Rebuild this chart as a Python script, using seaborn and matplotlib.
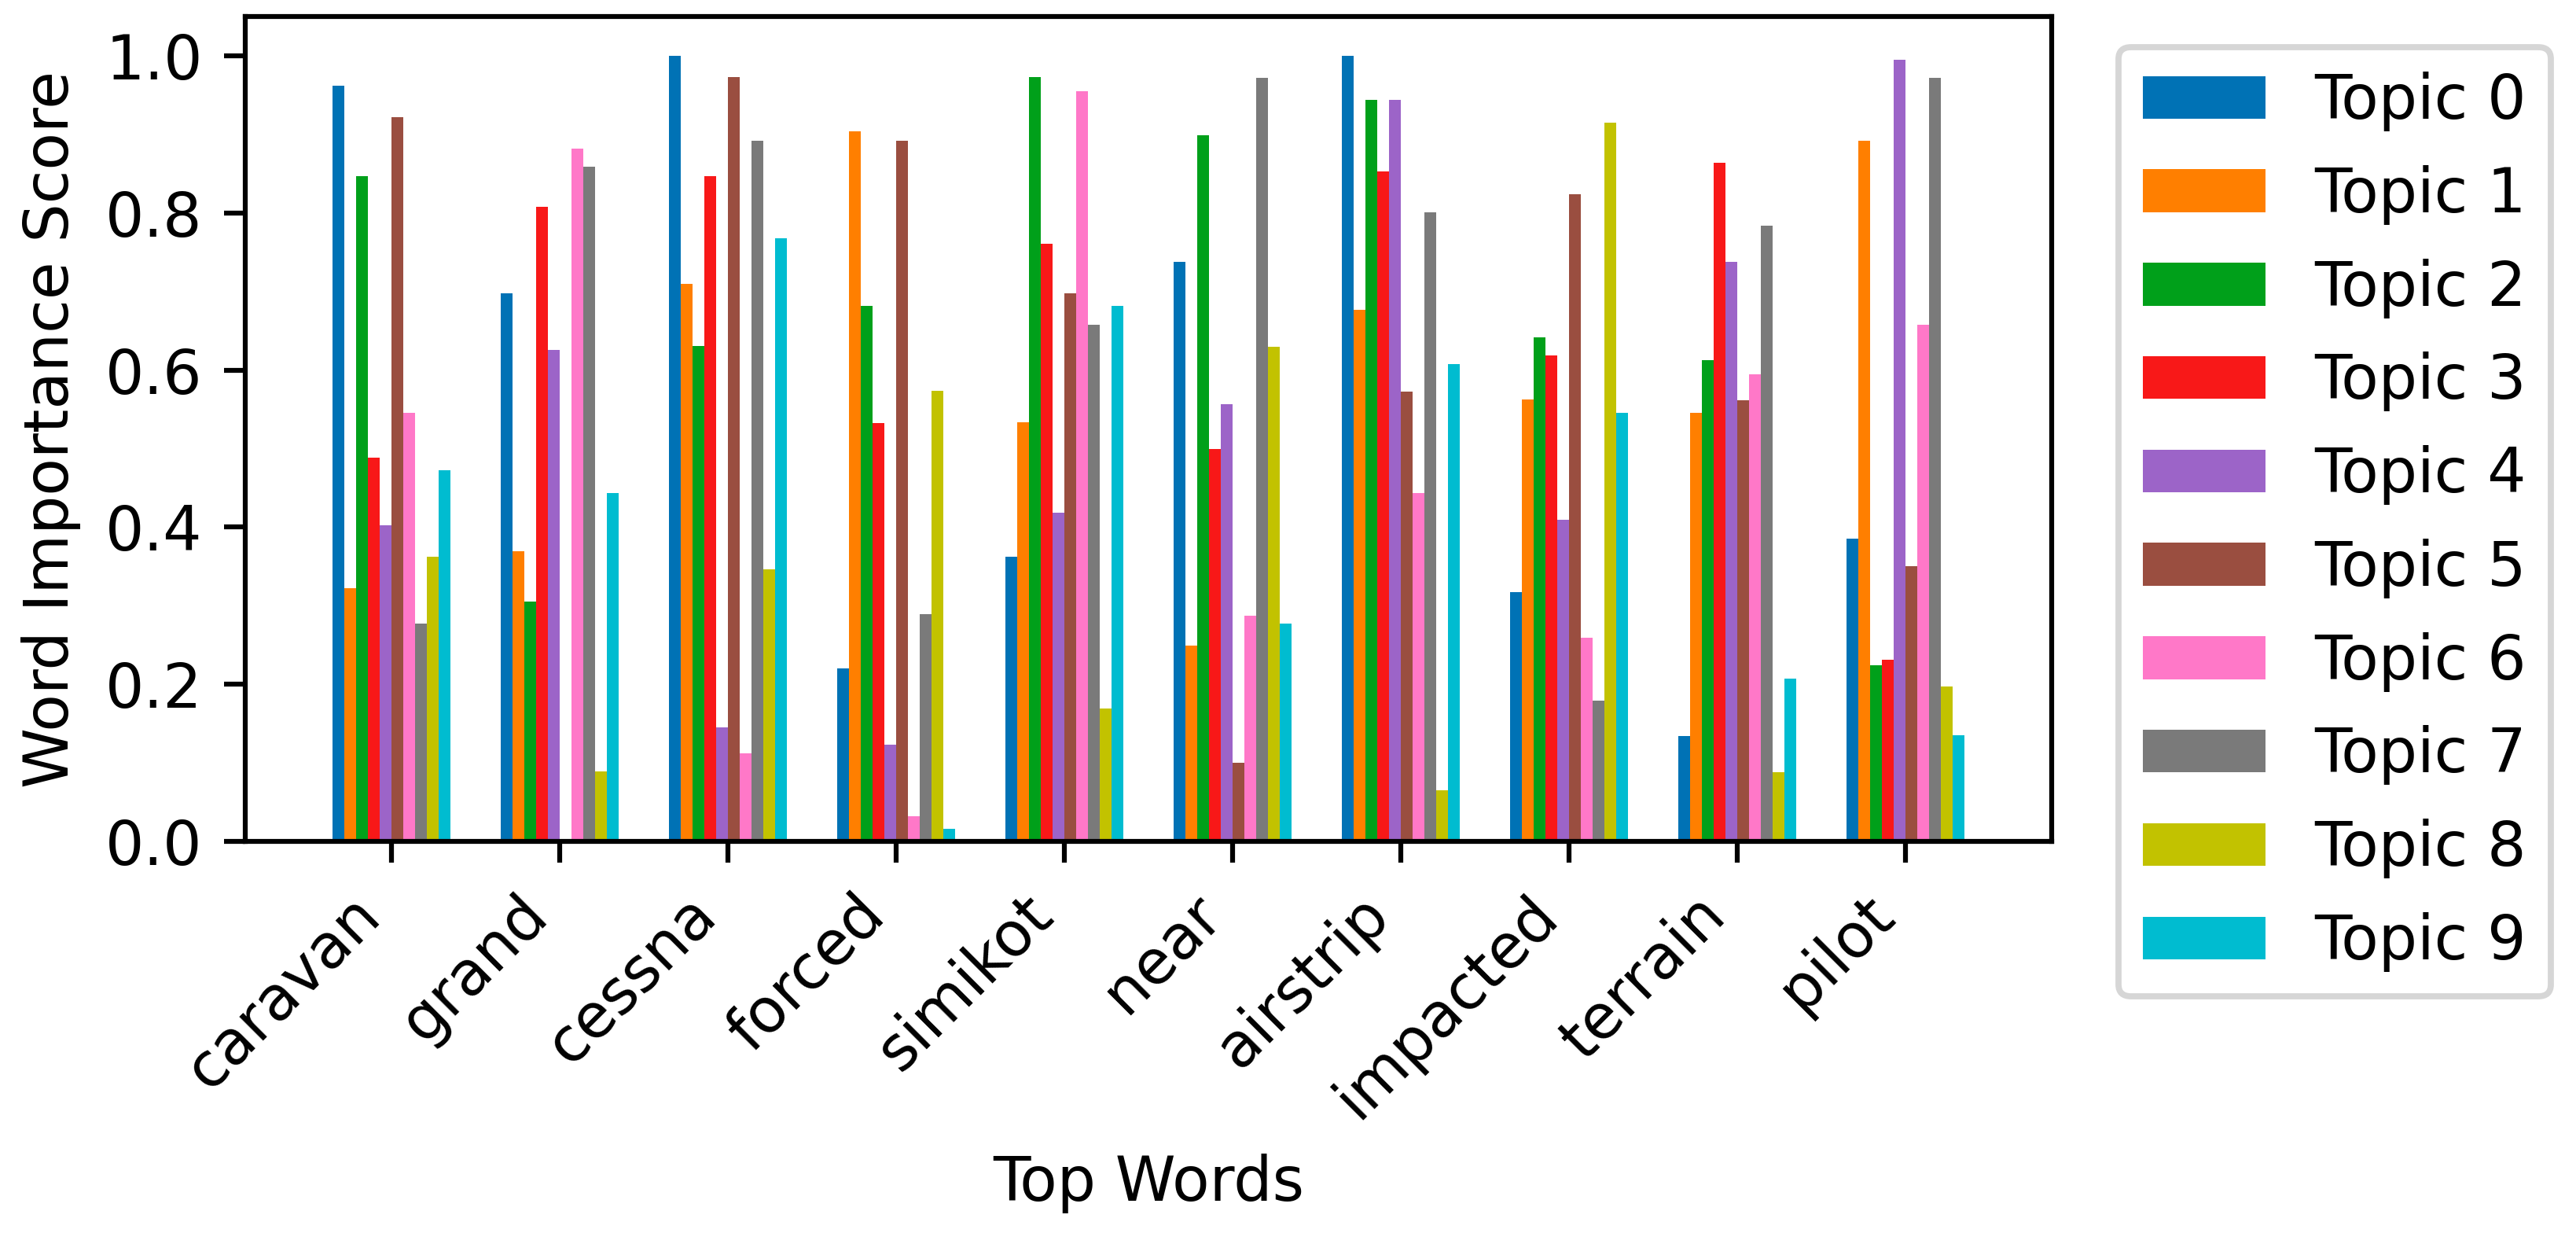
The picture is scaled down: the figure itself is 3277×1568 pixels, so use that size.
import pandas as pd
import matplotlib
matplotlib.use("Agg")
import matplotlib.pyplot as plt
import seaborn as sns

# === 数据 ===
words = ["caravan", "grand", "cessna", "forced", "simikot",
         "near", "airstrip", "impacted", "terrain", "pilot"]
topics = [f"Topic {i}" for i in range(10)]

topic0 = [0.962, 0.698, 1.000, 0.220, 0.362, 0.738, 1.000, 0.317, 0.134, 0.385]
topic1 = [0.322, 0.369, 0.710, 0.904, 0.534, 0.249, 0.677, 0.563, 0.546, 0.892]
topic2 = [0.847, 0.305, 0.631, 0.682, 0.973, 0.899, 0.944, 0.642, 0.613, 0.224]
topic3 = [0.488, 0.808, 0.847, 0.533, 0.761, 0.499, 0.853, 0.619, 0.864, 0.231]
topic4 = [0.402, 0.626, 0.145, 0.123, 0.418, 0.557, 0.944, 0.409, 0.738, 0.995]
topic5 = [0.922, 0.003, 0.973, 0.892, 0.698, 0.100, 0.573, 0.824, 0.562, 0.350]
topic6 = [0.546, 0.882, 0.112, 0.032, 0.955, 0.287, 0.443, 0.259, 0.595, 0.658]
topic7 = [0.277, 0.859, 0.892, 0.289, 0.658, 0.972, 0.801, 0.179, 0.784, 0.972]
topic8 = [0.362, 0.089, 0.346, 0.574, 0.169, 0.630, 0.065, 0.915, 0.088, 0.197]
topic9 = [0.472, 0.443, 0.768, 0.016, 0.682, 0.277, 0.608, 0.546, 0.207, 0.135]

colors = ["#0072b5", "#ff7f00", "#00a01a", "#f81818", "#9c64c8",
          "#9a4e40", "#ff78c8", "#7a7a7a", "#c2c200", "#00bcd0"]

all_scores = [topic0, topic1, topic2, topic3, topic4,
              topic5, topic6, topic7, topic8, topic9]
rows = []
for t, scores in zip(topics, all_scores):
    for w, s in zip(words, scores):
        rows.append({"word": w, "topic": t, "score": s})
df = pd.DataFrame(rows)

# === 画图 ===
dpi = 560
fig, ax = plt.subplots(figsize=(3277 / dpi, 1568 / dpi), dpi=dpi)
fig.subplots_adjust(left=0.0952, right=0.7965, top=0.9866, bottom=0.3176)

sns.barplot(data=df, x="word", y="score", hue="topic", order=words,
            hue_order=topics, palette=colors, width=0.7, saturation=1,
            errorbar=None, linewidth=0, ax=ax)

ax.set_xlim(-0.87, len(words) - 1 + 0.87)
ax.set_ylim(0, 1.05)
ax.set_yticks([0.0, 0.2, 0.4, 0.6, 0.8, 1.0])
ax.set_xlabel("Top Words")
ax.set_ylabel("Word Importance Score")
plt.setp(ax.get_xticklabels(), rotation=45, ha="right")

sns.move_legend(ax, "upper left", bbox_to_anchor=(1.02, 1), title=None,
                labelspacing=0.55)

fig.savefig("out.png", dpi=dpi)
